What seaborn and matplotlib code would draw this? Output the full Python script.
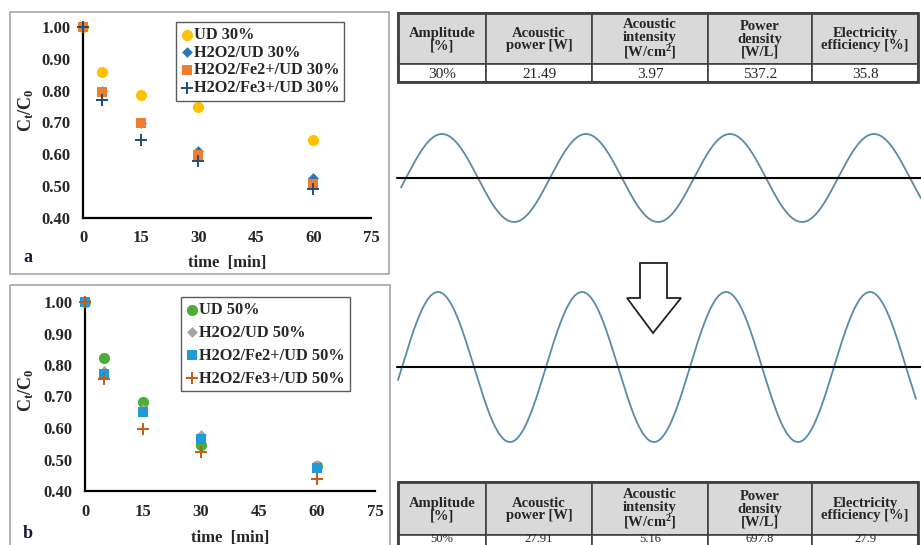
import numpy as np
import matplotlib.pyplot as plt
import seaborn as sns
from matplotlib.patches import Rectangle, Polygon

sns.set_theme(style="white")
plt.rcParams['font.family'] = ['Liberation Serif', 'DejaVu Serif']
plt.rcParams['mathtext.fontset'] = 'custom'
plt.rcParams['mathtext.rm'] = 'Liberation Serif:bold'
plt.rcParams['mathtext.bf'] = 'Liberation Serif:bold'
plt.rcParams['mathtext.it'] = 'Liberation Serif:bold:italic'

W, H = 921, 545

# degradation data, Ct/C0 vs time
time_min = [0, 5, 15, 30, 60]
ud30 = [1.00, 0.86, 0.785, 0.75, 0.645]
h2o2_ud30 = [1.00, 0.80, 0.70, 0.612, 0.527]
fe2_ud30 = [1.00, 0.797, 0.697, 0.597, 0.506]
fe3_ud30 = [1.00, 0.77, 0.645, 0.578, 0.492]

ud50 = [1.00, 0.822, 0.683, 0.545, 0.48]
h2o2_ud50 = [1.00, 0.78, 0.66, 0.577, 0.482]
fe2_ud50 = [1.00, 0.772, 0.652, 0.565, 0.473]
fe3_ud50 = [1.00, 0.755, 0.597, 0.524, 0.438]

labels30 = ['UD 30%', 'H2O2/UD 30%', 'H2O2/Fe2+/UD 30%', 'H2O2/Fe3+/UD 30%']
labels50 = ['UD 50%', 'H2O2/UD 50%', 'H2O2/Fe2+/UD 50%', 'H2O2/Fe3+/UD 50%']
x_ticks = [0, 15, 30, 45, 60, 75]
y_ticks = [0.40, 0.50, 0.60, 0.70, 0.80, 0.90, 1.00]

# tables
tab_header = ['Amplitude\n[%]', 'Acoustic\npower [W]', 'Acoustic\nintensity\n[W/cm$^2$]',
              'Power\ndensity\n[W/L]', 'Electricity\nefficiency [%]']
row30 = ['30%', '21.49', '3.97', '537.2', '35.8']
row50 = ['50%', '27.91', '5.16', '697.8', '27.9']

# sketch of the ultrasound waves (amplitude in px)
wave_amp_30 = 44
wave_amp_50 = 75
wave_period = 144


def px(x0, y0, x1, y1):
    return [x0 / W, 1 - y1 / H, (x1 - x0) / W, (y1 - y0) / H]


fig = plt.figure(figsize=(W / 100, H / 100), dpi=100)
ov = fig.add_axes([0, 0, 1, 1], zorder=0)
ov.set_xlim(0, W)
ov.set_ylim(H, 0)
ov.axis('off')


def panel(rect, series, tag, tag_y, leg_rect, lblspace, ylab_y, xlab_y):
    ax = fig.add_axes(px(*rect), zorder=2)
    ax.patch.set_alpha(0)
    for label, vals, marker, color, size in series:
        if marker == '+':
            sns.scatterplot(x=time_min, y=vals, ax=ax, marker=marker, color=color,
                            s=size, linewidth=1.4, label=label, clip_on=False, zorder=3)
        else:
            sns.scatterplot(x=time_min, y=vals, ax=ax, marker=marker, color=color,
                            s=size, linewidth=0, label=label, clip_on=False, zorder=3)
    ax.set_xlim(0, 75)
    ax.set_ylim(0.40, 1.00)
    ax.set_xticks(x_ticks)
    ax.set_yticks(y_ticks)
    ax.set_yticklabels([f'{v:.2f}' for v in y_ticks])
    ax.tick_params(length=0, pad=9, labelsize=12)
    for t in ax.get_xticklabels() + ax.get_yticklabels():
        t.set_fontweight('bold')
    for s in ['top', 'right']:
        ax.spines[s].set_visible(False)
    for s in ['left', 'bottom']:
        ax.spines[s].set_color('black')
        ax.spines[s].set_linewidth(1.6)
    ax.set_xlabel('time  [min]', fontsize=12, fontweight='bold')
    ax.set_ylabel(r'C$_\mathrm{t}$/C$_\mathrm{0}$', fontsize=13, fontweight='bold')
    hgt = rect[3] - rect[1]
    ax.yaxis.set_label_coords((36 - rect[0]) / (rect[2] - rect[0]), (rect[3] - ylab_y) / hgt)
    ax.xaxis.set_label_coords(0.5, (rect[3] - xlab_y) / hgt)
    lx0, ly0, lx1, ly1 = leg_rect
    leg = ax.legend(loc='upper left', bbox_to_anchor=(lx0 / W, 1 - ly0 / H),
                    bbox_transform=fig.transFigure, frameon=True, fancybox=False,
                    edgecolor='#333333', borderpad=0.3, handletextpad=0.1,
                    handlelength=0.7, labelspacing=lblspace, borderaxespad=0,
                    prop={'weight': 'bold', 'size': 11.8})
    leg.get_frame().set_linewidth(1.0)
    ov.text(28, tag_y, tag, ha='center', va='center', fontsize=13,
            fontweight='bold', color='#1a1a3a')
    return ax


ov.add_patch(Rectangle((10, 12), 379, 262, fill=False, ec='#a6a6a6', lw=1.2))
ov.add_patch(Rectangle((10, 285), 380, 270, fill=False, ec='#a6a6a6', lw=1.2))

series_a = [
    (labels30[0], ud30, 'o', '#ffc000', 65),
    (labels30[1], h2o2_ud30, 'D', '#2e75b6', 30),
    (labels30[2], fe2_ud30, 's', '#ed7d31', 60),
    (labels30[3], fe3_ud30, '+', '#1f4e79', 75),
]
series_b = [
    (labels50[0], ud50, 'o', '#4caf35', 65),
    (labels50[1], h2o2_ud50, 'D', '#a5a5a5', 30),
    (labels50[2], fe2_ud50, 's', '#1f9ad6', 60),
    (labels50[3], fe3_ud50, '+', '#c55a11', 75),
]
panel((83, 27, 371, 218), series_a, 'a', 258, (176, 22, 348, 99), 0.1, 110, 255)
panel((85, 302, 375, 491), series_b, 'b', 533, (181, 297, 350, 390), 0.42, 390, 530)

# tables
col_edges = [398, 486, 592, 708, 812, 918]


def table(y0, y_mid, y1, row, row_size, row_y):
    for i in range(5):
        xa, xb = col_edges[i], col_edges[i + 1]
        ov.add_patch(Rectangle((xa, y0), xb - xa, y_mid - y0, fc='#d9d9d9', ec='#404040', lw=1.2))
        ov.add_patch(Rectangle((xa, y_mid), xb - xa, y1 - y_mid, fc='white', ec='#404040', lw=1.2))
        ov.text((xa + xb) / 2, (y0 + y_mid) / 2 + 1, tab_header[i], ha='center', va='center',
                fontsize=10.5, fontweight='bold', linespacing=0.95)
        ov.text((xa + xb) / 2, row_y, row[i], ha='center', va='center',
                fontsize=row_size)
    ov.add_patch(Rectangle((col_edges[0], y0), col_edges[-1] - col_edges[0], y1 - y0,
                           fill=False, ec='#404040', lw=2.0))


table(13, 64, 82, row30, 11, 74)
table(482, 535, 553, row50, 9, 539.5)

# waves
wave_color = '#5a8aa6'
xs = np.linspace(401, 921, 800)
ov.plot(xs, 178 - wave_amp_30 * np.sin(2 * np.pi * (xs - 406) / wave_period),
        color=wave_color, lw=1.3)
ov.plot([397, 921], [178, 178], color='black', lw=1.5)
xs2 = np.linspace(398, 916, 800)
ov.plot(xs2, 367 - wave_amp_50 * np.sin(2 * np.pi * (xs2 - 402) / wave_period),
        color=wave_color, lw=1.3)
ov.plot([397, 921], [367, 367], color='black', lw=1.5)

arrow = [(640, 263), (667, 263), (667, 298), (681, 298), (653, 333), (627, 298), (640, 298)]
ov.add_patch(Polygon(arrow, closed=True, fc='white', ec='#222222', lw=1.3))

fig.savefig('out.png', dpi=100)
